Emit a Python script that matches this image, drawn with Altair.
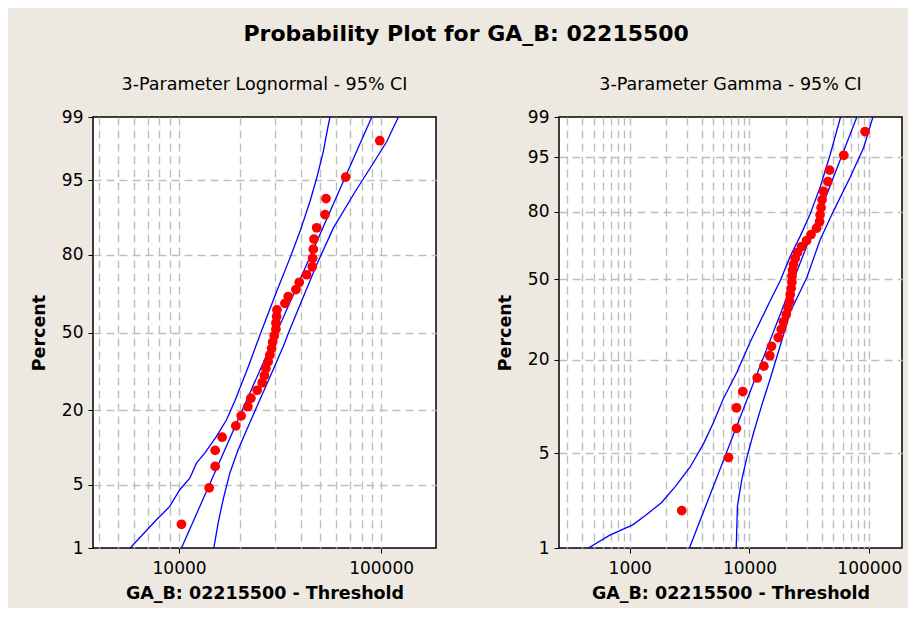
import math
from statistics import NormalDist
import pandas as pd
import altair as alt

# ---------------- text ----------------
TITLE = "Probability Plot for GA_B: 02215500"
SUB_LEFT = "3-Parameter Lognormal - 95% CI"
SUB_RIGHT = "3-Parameter Gamma - 95% CI"
X_TITLE = "GA_B: 02215500 - Threshold"
Y_TITLE = "Percent"

# ---------------- axes ----------------
Y_TICKS = [1, 5, 20, 50, 80, 95, 99]
LEFT_X_LABELS = [10000, 100000]
RIGHT_X_LABELS = [1000, 10000, 100000]
LEFT_X_DOMAIN = [3750, 187000]
RIGHT_X_DOMAIN = [257, 187500]
GAMMA_SHAPE = 2.5  # shape of the fitted gamma (defines the gamma probability scale)

# ---------------- data: plotted percentages (36 ranked observations) ----------------
PCT = [1.92, 4.67, 7.42, 10.16, 12.91, 15.66, 18.41, 21.15, 23.90, 26.65, 29.40, 32.14,
       34.89, 37.64, 40.38, 43.13, 45.88, 48.63, 51.37, 54.12, 56.87, 59.62, 62.36, 65.11,
       67.86, 70.60, 73.35, 76.10, 78.85, 81.59, 84.34, 87.09, 89.84, 92.58, 95.33, 98.08]

# data - threshold, lognormal fit
LOGN_X = [10280, 14090, 15090, 15090, 16340, 19100, 20300, 21900, 22670, 24360, 25790, 26450,
          26910, 27620, 28160, 28720, 29050, 29580, 30160, 30160, 30400, 30510, 33420, 34700,
          37890, 39350, 42810, 45640, 45850, 46170, 46540, 48000, 52780, 53380, 66830, 98540]

# data - threshold, gamma fit
GAMMA_X = [2719, 6677, 7789, 7789, 8790, 11600, 13170, 14780, 15270, 17370, 18400, 19230,
           20260, 20970, 21590, 21880, 22300, 22560, 22650, 22870, 23310, 24080, 25180, 27190,
           29940, 32650, 36290, 38450, 38820, 39570, 40340, 41520, 45100, 46600, 61240, 92240]

# fitted lines
LOGN_FIT_PCT = [1, 99]
LOGN_FIT_X = [10280, 89950]
GAMMA_FIT_PCT = [1, 99]
GAMMA_FIT_X = [3152, 78770]

# 95% confidence bands, lognormal
LOGN_LO_PCT = [1.0, 2.16, 3.02, 4.48, 5.79, 7.92, 9.63, 13.1, 17.3, 23.4, 35.7, 50.0,
               67.1, 78.9, 86.2, 92.13, 95.2, 97.46, 98.63, 99.0]
LOGN_LO_X = [5730, 7730, 8990, 10080, 11300, 12190, 13400, 15320, 17180, 18990, 22030, 25420,
             30400, 35390, 39670, 44460, 47980, 51760, 54420, 55850]
LOGN_HI_PCT = [1.0, 1.98, 3.55, 6.44, 10.28, 15.5, 23.4, 33.0, 44.0, 50.0, 61.7, 76.75,
               87.0, 93.6, 96.49, 98.04, 99.0]
LOGN_HI_X = [14860, 15610, 16520, 17830, 19610, 21980, 25120, 28710, 32790, 34860, 39670, 47980,
             58000, 74500, 90500, 106700, 121800]

# 95% confidence bands, gamma
GAMMA_LO_PCT = [1.0, 1.25, 1.50, 1.74, 2.20, 2.90, 4.00, 5.82, 8.14, 11.67, 16.9, 25.2,
                40.5, 49.3, 60.6, 69.9, 79.3, 88.4, 95.5, 99.0]
GAMMA_LO_X = [452, 677, 1059, 1327, 1840, 2409, 3196, 4128, 5002, 6064, 7833, 10134,
              14890, 18050, 21880, 26520, 32150, 38960, 47230, 57570]
GAMMA_HI_PCT = [1.0, 2.08, 3.25, 4.65, 6.91, 10.58, 15.48, 24.06, 35.9, 50.8, 68.4, 80.4,
                91.0, 96.4, 99.0]
GAMMA_HI_X = [7744, 7937, 8625, 9493, 10800, 12670, 14890, 18050, 21880, 30110, 38960, 50330,
              69380, 89630, 107200]

# ---------------- probability scale transforms ----------------
_nd = NormalDist()


def normal_scale(p):
    return _nd.inv_cdf(p / 100.0)


def _gamma_cdf(x, a):
    if x <= 0:
        return 0.0
    term = 1.0 / a
    s = term
    n = 1
    while n < 2000:
        term *= x / (a + n)
        s += term
        if term < 1e-16 * s:
            break
        n += 1
    return math.exp(-x + a * math.log(x) - math.lgamma(a)) * s


def gamma_scale(p):
    q = p / 100.0
    lo, hi = 1e-9, 200.0
    for _ in range(200):
        mid = 0.5 * (lo + hi)
        if _gamma_cdf(mid, GAMMA_SHAPE) < q:
            lo = mid
        else:
            hi = mid
    return math.log(0.5 * (lo + hi))


FONT = "DejaVu Sans"
GRID_DASH = [8, 5]
GRID_COLOR = "#BEBEBE"


def panel(xs, fit, lo, hi, yfun, xdomain, xlabels, subtitle):
    pts = pd.DataFrame({"pct": PCT, "val": xs})
    pts["y"] = [yfun(p) for p in pts["pct"]]
    rows = []
    for name, (pp, vv) in (("lo", lo), ("fit", fit), ("hi", hi)):
        for p, v in zip(pp, vv):
            rows.append({"series": name, "pct": p, "val": v, "y": yfun(p)})
    lines = pd.DataFrame(rows)

    yvals = [yfun(p) for p in Y_TICKS]
    ylab = "''"
    for p, v in reversed(list(zip(Y_TICKS, yvals))):
        ylab = f"abs(datum.value - ({v!r})) < 1e-6 ? '{p}' : ({ylab})"
    yend_test = (f"abs(datum.value - ({yvals[0]!r})) < 1e-6 || "
                 f"abs(datum.value - ({yvals[-1]!r})) < 1e-6")

    grid_vals = [m * 10 ** e for e in range(2, 7) for m in range(1, 10)
                 if xdomain[0] <= m * 10 ** e <= xdomain[1]]
    lab_list = "[" + ",".join(str(v) for v in xlabels) + "]"
    xaxis = alt.Axis(
        values=grid_vals,
        labelExpr=f"indexof({lab_list}, datum.value) >= 0 ? format(datum.value, 'd') : ''",
        tickOpacity={"condition": {"test": f"indexof({lab_list}, datum.value) >= 0", "value": 1},
                     "value": 0},
        labelOverlap=False, labelFlush=False, grid=True,
        labelPadding=7, titlePadding=8,
    )
    yaxis = alt.Axis(values=yvals, labelExpr=ylab, grid=True, labelOverlap=False,
                     gridOpacity={"condition": {"test": yend_test, "value": 0}, "value": 1},
                     labelPadding=5, titlePadding=13)
    xscale = alt.Scale(type="log", domain=xdomain, nice=False)
    yscale = alt.Scale(domain=[yfun(1), yfun(99)], nice=False, zero=False)

    line_layer = alt.Chart(lines).mark_line(color="#0000FF", strokeWidth=1.3, clip=True).encode(
        x=alt.X("val:Q", scale=xscale, axis=xaxis, title=X_TITLE),
        y=alt.Y("y:Q", scale=yscale, axis=yaxis, title=Y_TITLE),
        detail="series:N",
        order="pct:Q",
    )
    point_layer = alt.Chart(pts).mark_circle(size=95, color="#FF0000", opacity=1).encode(
        x=alt.X("val:Q", scale=xscale, axis=xaxis, title=X_TITLE),
        y=alt.Y("y:Q", scale=yscale, axis=yaxis, title=Y_TITLE),
    )
    return alt.layer(line_layer, point_layer).properties(
        width=343, height=431,
        title=alt.TitleParams(subtitle, fontSize=17.5, fontWeight="normal", font=FONT,
                              color="black", offset=15),
    )


left = panel(LOGN_X, (LOGN_FIT_PCT, LOGN_FIT_X), (LOGN_LO_PCT, LOGN_LO_X),
             (LOGN_HI_PCT, LOGN_HI_X), normal_scale, LEFT_X_DOMAIN, LEFT_X_LABELS, SUB_LEFT)
right = panel(GAMMA_X, (GAMMA_FIT_PCT, GAMMA_FIT_X), (GAMMA_LO_PCT, GAMMA_LO_X),
              (GAMMA_HI_PCT, GAMMA_HI_X), gamma_scale, RIGHT_X_DOMAIN, RIGHT_X_LABELS, SUB_RIGHT)

chart = alt.hconcat(left, right, spacing=58).properties(
    title=alt.TitleParams(TITLE, fontSize=22, fontWeight="bold", font=FONT, color="black",
                          anchor="middle", offset=29),
    padding={"left": 21, "top": 14, "right": 5, "bottom": 5},
    background="#EDE9E0",
).configure_view(
    stroke="black", strokeWidth=1.5, fill="white"
).configure_axis(
    labelFont=FONT, labelFontSize=17, labelColor="black",
    titleFont=FONT, titleFontSize=17.5, titleFontWeight="bold", titleColor="black",
    domain=False, tickColor="black", tickSize=5, tickWidth=1,
    gridColor=GRID_COLOR, gridDash=GRID_DASH, gridWidth=1.4,
)

chart.save("out.html", embed_options={"renderer": "svg", "actions": False})
